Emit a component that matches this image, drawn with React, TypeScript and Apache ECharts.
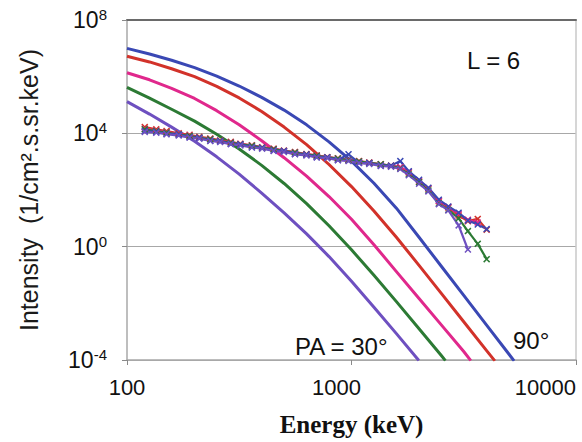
import React, { useEffect, useRef } from "react";
import * as echarts from "echarts";

// ---- Model spectra (energy keV, log10 intensity) ----
const modelBlueE = [100, 126, 158, 200, 251, 316, 398, 501, 631, 794, 1000, 1259, 1585, 1995, 2512, 3162, 3981, 5012, 5300];
const modelBlueLog = [7.0, 6.8, 6.58, 6.32, 6.02, 5.67, 5.27, 4.82, 4.3, 3.7, 3.02, 2.24, 1.36, 0.34, -0.69, -1.72, -2.75, -3.78, -4.03];

const modelRedE = [100, 126, 158, 200, 251, 316, 398, 501, 631, 794, 1000, 1259, 1585, 1995, 2512, 3162, 3981, 4350];
const modelRedLog = [6.72, 6.52, 6.28, 6.0, 5.66, 5.25, 4.77, 4.22, 3.6, 2.9, 2.12, 1.26, 0.33, -0.65, -1.65, -2.65, -3.65, -4.03];

const modelMagentaE = [100, 126, 158, 200, 251, 316, 398, 501, 631, 794, 1000, 1259, 1585, 1995, 2512, 3162, 3400];
const modelMagentaLog = [6.14, 5.89, 5.59, 5.23, 4.8, 4.3, 3.74, 3.14, 2.49, 1.77, 0.97, 0.07, -0.88, -1.82, -2.76, -3.7, -4.02];

const modelGreenE = [100, 126, 158, 200, 251, 316, 398, 501, 631, 794, 1000, 1259, 1585, 1995, 2512, 2620];
const modelGreenLog = [5.62, 5.24, 4.85, 4.43, 3.97, 3.45, 2.87, 2.23, 1.52, 0.74, -0.11, -1.01, -1.94, -2.89, -3.84, -4.02];

const modelPurpleE = [100, 126, 158, 200, 251, 316, 398, 501, 631, 794, 1000, 1259, 1585, 1995];
const modelPurpleLog = [5.12, 4.68, 4.22, 3.72, 3.17, 2.56, 1.89, 1.19, 0.45, -0.35, -1.22, -2.14, -3.07, -4.02];

// ---- Measured spectra (energy keV, log10 intensity) ----
const measuredE = [120, 135, 150, 170, 190, 210, 235, 260, 290, 320, 360, 400, 450, 500, 560, 630, 700, 780, 870, 970, 1080, 1200, 1350, 1500, 1650, 1800, 2000, 2200, 2450, 2700, 3000, 3300, 3650, 4000];
const measuredRedLog = [4.22, 4.14, 4.08, 4.0, 3.95, 3.88, 3.82, 3.75, 3.7, 3.63, 3.58, 3.51, 3.46, 3.39, 3.34, 3.27, 3.22, 3.16, 3.12, 3.07, 3.02, 2.97, 2.91, 2.86, 2.8, 2.62, 2.28, 2.05, 1.6, 1.38, 1.1, 0.9, 0.98, 0.6];
const measuredMagentaLog = [4.16, 4.1, 4.04, 3.97, 3.92, 3.85, 3.8, 3.73, 3.68, 3.62, 3.57, 3.5, 3.45, 3.38, 3.33, 3.26, 3.22, 3.16, 3.11, 3.06, 3.01, 2.96, 2.9, 2.86, 2.81, 2.64, 2.33, 2.06, 1.62, 1.4, 1.15, 0.95, 0.85, null];
const measuredGreenLog = [4.14, 4.08, 4.03, 3.96, 3.91, 3.84, 3.79, 3.72, 3.67, 3.61, 3.56, 3.49, 3.44, 3.37, 3.32, 3.25, 3.21, 3.15, 3.11, 3.05, 3.01, 2.95, 2.91, 2.85, 2.76, 2.55, 2.27, 1.98, 1.52, 1.3, 1.0, 0.55, 0.1, -0.44];
const measuredBlueLog = [4.08, 4.05, 3.98, 3.96, 3.86, 3.84, 3.74, 3.73, 3.62, 3.61, 3.51, 3.49, 3.39, 3.38, 3.27, 3.25, 3.16, 3.15, 3.06, 3.26, 2.96, 2.95, 2.86, 2.86, 3.02, 2.66, 2.36, 2.08, 1.66, 1.42, 1.2, 0.92, 0.78, 0.62];
const measuredPurpleLog = [4.05, 4.02, 3.97, 3.92, 3.85, 3.81, 3.73, 3.69, 3.62, 3.57, 3.5, 3.46, 3.38, 3.34, 3.26, 3.22, 3.15, 3.12, 3.05, 3.02, 2.95, 2.92, 2.85, 2.82, 2.74, 2.52, 2.22, 1.95, 1.5, 1.28, 0.75, -0.1, null, null];

const xMin = 100;
const xMax = 10000;
const yMin = 1e-4;
const yMax = 1e8;

const COLORS = {
  blue: "#3a48b4",
  red: "#d2322a",
  magenta: "#e0288c",
  green: "#2c7a34",
  purple: "#6e50c0",
};

const CROSS = "path://M0,1.5L1.5,0L5,3.5L8.5,0L10,1.5L6.5,5L10,8.5L8.5,10L5,6.5L1.5,10L0,8.5L3.5,5Z";
const FONT = "'Liberation Sans', Arial, sans-serif";

function pairs(es: number[], logs: (number | null)[]) {
  const out: number[][] = [];
  es.forEach((e, i) => {
    const l = logs[i];
    if (l !== null && l !== undefined) out.push([e, Math.pow(10, l)]);
  });
  return out;
}

function modelSeries(name: string, es: number[], logs: number[], color: string) {
  return {
    name,
    type: "line",
    data: pairs(es, logs),
    showSymbol: false,
    smooth: false,
    clip: true,
    lineStyle: { color, width: 3, join: "round" },
    itemStyle: { color },
    z: 2,
  };
}

function measuredSeries(name: string, logs: (number | null)[], color: string) {
  return {
    name,
    type: "line",
    data: pairs(measuredE, logs),
    symbol: CROSS,
    symbolSize: 7,
    showSymbol: true,
    clip: true,
    lineStyle: { color, width: 2.2 },
    itemStyle: { color },
    z: 3,
  };
}

export default function App() {
  const ref = useRef<HTMLDivElement>(null);

  useEffect(() => {
    document.body.style.margin = "0";
    if (!ref.current) return;
    const chart = echarts.init(ref.current, undefined, { renderer: "svg" });
    chart.setOption({
      animation: false,
      backgroundColor: "#ffffff",
      grid: { left: 127, right: 6, top: 20, bottom: 78 },
      xAxis: [
        {
          type: "log",
          logBase: 10,
          min: xMin,
          max: xMax,
          interval: 1,
          axisLine: { show: true, lineStyle: { color: "#a8a8a8", width: 1.5 } },
          axisTick: { show: true, length: 5, lineStyle: { color: "#8a8a8a" } },
          minorTick: { show: false },
          splitLine: { show: false },
          axisLabel: {
            margin: 16,
            color: "#111",
            fontSize: 22,
            fontFamily: FONT,
            alignMaxLabel: "right",
            formatter: (v: number) => (Math.round(v) === 1000 ? "{s|1000}" : String(Math.round(v))),
            rich: { s: { fontSize: 22, fontFamily: FONT, color: "#111", padding: [0, 30, 0, 0] } },
          },
          name: "Energy (keV)",
          nameLocation: "middle",
          nameGap: 52,
          nameTextStyle: {
            fontFamily: "'Liberation Serif', 'Times New Roman', serif",
            fontWeight: "bold",
            fontSize: 25,
            color: "#111",
          },
        },
        {
          type: "value",
          position: "top",
          min: 0,
          max: 1,
          axisLine: { show: true, onZero: false, lineStyle: { color: "#6a6a6a", width: 2 } },
          axisTick: { show: false },
          axisLabel: { show: false },
          splitLine: { show: false },
        },
      ],
      yAxis: [
        {
          type: "log",
          logBase: 10,
          min: yMin,
          max: yMax,
          interval: 4,
          axisLine: { show: true, lineStyle: { color: "#a8a8a8", width: 1.5 } },
          axisTick: { show: true, length: 5, lineStyle: { color: "#8a8a8a" } },
          minorTick: { show: false },
          splitLine: { show: true, lineStyle: { color: "#a8a8a8", width: 1.2 } },
          axisLabel: {
            margin: 20,
            color: "#111",
            formatter: (v: number) => {
              const e = Math.round(Math.log10(v));
              return "{b|10}{s|" + e + "}";
            },
            rich: {
              b: { fontSize: 23, fontFamily: FONT, color: "#111", lineHeight: 26 },
              s: { fontSize: 15, fontFamily: FONT, color: "#111", verticalAlign: "top", lineHeight: 26, padding: [0, 0, 8, 0] },
            },
          },
          name: "Intensity  (1/cm².s.sr.keV)",
          nameLocation: "middle",
          nameRotate: 90,
          nameGap: 86,
          nameTextStyle: { fontFamily: FONT, fontSize: 25, color: "#1a1a1a" },
        },
        {
          type: "value",
          position: "right",
          min: 0,
          max: 1,
          axisLine: { show: true, onZero: false, lineStyle: { color: "#c8c8c8", width: 1.5 } },
          axisTick: { show: false },
          axisLabel: { show: false },
          splitLine: { show: false },
        },
      ],
      graphic: [
        { type: "text", x: 467, y: 60, style: { text: "L = 6", fontSize: 24, fontFamily: FONT, fill: "#111", verticalAlign: "middle", align: "left" } },
        { type: "text", x: 295, y: 346, style: { text: "PA = 30°", fontSize: 24, fontFamily: FONT, fill: "#111", verticalAlign: "middle", align: "left" } },
        { type: "text", x: 513, y: 340, style: { text: "90°", fontSize: 24, fontFamily: FONT, fill: "#111", verticalAlign: "middle", align: "left" } },
      ],
      series: [
        modelSeries("Model 90°", modelBlueE, modelBlueLog, COLORS.blue),
        modelSeries("Model 80°", modelRedE, modelRedLog, COLORS.red),
        modelSeries("Model 60°", modelMagentaE, modelMagentaLog, COLORS.magenta),
        modelSeries("Model 45°", modelGreenE, modelGreenLog, COLORS.green),
        modelSeries("Model 30°", modelPurpleE, modelPurpleLog, COLORS.purple),
        measuredSeries("Data red", measuredRedLog, COLORS.red),
        measuredSeries("Data magenta", measuredMagentaLog, COLORS.magenta),
        measuredSeries("Data green", measuredGreenLog, COLORS.green),
        measuredSeries("Data blue", measuredBlueLog, COLORS.blue),
        measuredSeries("Data purple", measuredPurpleLog, COLORS.purple),
      ],
    });
    return () => chart.dispose();
  }, []);

  return <div ref={ref} style={{ width: 582, height: 442 }} />;
}
